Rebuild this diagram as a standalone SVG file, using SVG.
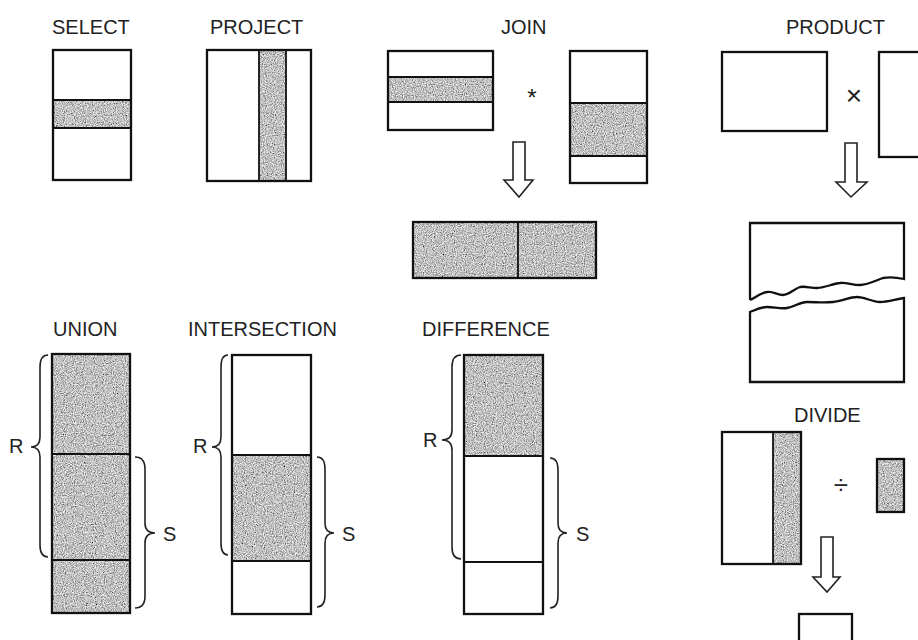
<svg xmlns="http://www.w3.org/2000/svg" width="918" height="640" viewBox="0 0 918 640">
<style>
text{font-family:"Liberation Sans",Arial,sans-serif;font-size:20px;fill:#222}
.op{font-size:28px}
.box{fill:none;stroke:#111;stroke-width:2.3}
.div{fill:none;stroke:#111;stroke-width:1.8}
.sh{fill:#999;filter:url(#grain)}
.brace{fill:none;stroke:#222;stroke-width:1.6}
.arr{fill:#fff;stroke:#222;stroke-width:1.6;stroke-linejoin:miter}
</style>
<defs>
<filter id="grain" x="0" y="0" width="100%" height="100%">
<feTurbulence type="fractalNoise" baseFrequency="0.9" numOctaves="2" seed="3" result="n"/>
<feColorMatrix in="n" type="matrix" values="1.4 0 0 0 -0.17  1.4 0 0 0 -0.17  1.4 0 0 0 -0.17  0 0 0 0 1" result="g"/>
<feComposite in="g" in2="SourceAlpha" operator="in"/>
</filter>
</defs>
<rect width="918" height="640" fill="#fff"/>

<g id="select">
<text x="52" y="34">SELECT</text>
<rect class="sh" x="53" y="100" width="78" height="28"/>
<line class="div" x1="53" y1="100" x2="131" y2="100"/>
<line class="div" x1="53" y1="128" x2="131" y2="128"/>
<rect class="box" x="53" y="50" width="78" height="130"/>
</g>

<g id="project">
<text x="210" y="34">PROJECT</text>
<rect class="sh" x="259" y="50" width="27" height="131"/>
<line class="div" x1="259" y1="50" x2="259" y2="181"/>
<line class="div" x1="286" y1="50" x2="286" y2="181"/>
<rect class="box" x="207" y="50" width="104" height="131"/>
</g>

<g id="join">
<text x="501" y="34">JOIN</text>
<rect class="sh" x="388" y="77" width="105" height="25"/>
<line class="div" x1="388" y1="77" x2="493" y2="77"/>
<line class="div" x1="388" y1="102" x2="493" y2="102"/>
<rect class="box" x="388" y="51" width="105" height="79"/>
<text class="op" x="532" y="106" text-anchor="middle" style="font-size:24px">*</text>
<rect class="sh" x="570" y="103" width="77" height="53"/>
<line class="div" x1="570" y1="103" x2="647" y2="103"/>
<line class="div" x1="570" y1="156" x2="647" y2="156"/>
<rect class="box" x="570" y="51" width="77" height="132"/>
</g>

<g id="join-result">
<rect class="sh" x="413" y="222" width="183" height="56"/>
<line class="div" x1="518" y1="222" x2="518" y2="278"/>
<rect class="box" x="413" y="222" width="183" height="56"/>
</g>

<g id="product">
<text x="786" y="34">PRODUCT</text>
<rect class="box" x="722" y="52" width="105" height="79"/>
<text class="op" x="854" y="105" text-anchor="middle">×</text>
<rect class="box" x="879" y="52" width="60" height="105"/>
</g>

<g id="product-result">
<path class="box" stroke-linejoin="miter" d="M750,300 L750,223 L904,223 L904,279 C895,277 888,277 883,278 C875,281 867,285 860,285 C852,285 846,282 840,283 C832,284 824,288 817,288 C810,288 806,286 800,287 C794,289 789,295 783,295 C777,295 773,291 767,292 C760,293 755,298 750,300"/>
<path class="box" stroke-linejoin="miter" d="M750,312 C755,310 761,307 767,307 C774,307 780,309 787,308 C794,307 800,302 807,302 C816,302 824,303 833,302 C842,301 850,297 857,297 C865,297 872,302 880,302 C888,302 896,299 904,298 L904,382 L750,382 Z"/>
</g>

<g id="union">
<text x="53" y="336">UNION</text>
<rect class="sh" x="52" y="354" width="78" height="259"/>
<line class="div" x1="52" y1="454" x2="130" y2="454"/>
<line class="div" x1="52" y1="560" x2="130" y2="560"/>
<rect class="box" x="52" y="354" width="78" height="259"/>
<path class="brace" d="M48,355 Q40,355 40,367 L40,437 Q40,447 31,447 Q40,447 40,457 L40,545 Q40,557 48,557"/>
<text x="9" y="453">R</text>
<path class="brace" d="M135,457 Q145,457 145,469 L145,523 Q145,533 155,533 Q145,533 145,543 L145,596 Q145,608 135,608"/>
<text x="163" y="541">S</text>
</g>

<g id="intersection">
<text x="188" y="336">INTERSECTION</text>
<rect class="sh" x="232" y="455" width="79" height="106"/>
<line class="div" x1="232" y1="455" x2="311" y2="455"/>
<line class="div" x1="232" y1="561" x2="311" y2="561"/>
<rect class="box" x="232" y="355" width="79" height="259"/>
<path class="brace" d="M228,355 Q221,355 221,367 L221,437 Q221,447 212,447 Q221,447 221,457 L221,543 Q221,555 228,555"/>
<text x="193" y="453">R</text>
<path class="brace" d="M317,457 Q325,457 325,469 L325,523 Q325,533 334,533 Q325,533 325,543 L325,595 Q325,607 317,607"/>
<text x="342" y="541">S</text>
</g>

<g id="difference">
<text x="422" y="336">DIFFERENCE</text>
<rect class="sh" x="464" y="355" width="79" height="101"/>
<line class="div" x1="464" y1="456" x2="543" y2="456"/>
<line class="div" x1="464" y1="562" x2="543" y2="562"/>
<rect class="box" x="464" y="355" width="79" height="259"/>
<path class="brace" d="M461,355 Q452,355 452,367 L452,430 Q452,440 442,440 Q452,440 452,450 L452,547 Q452,559 461,559"/>
<text x="423" y="447">R</text>
<path class="brace" d="M550,458 Q558,458 558,470 L558,523 Q558,533 567,533 Q558,533 558,543 L558,596 Q558,608 550,608"/>
<text x="576" y="541">S</text>
</g>

<g id="divide">
<text x="794" y="422">DIVIDE</text>
<rect class="sh" x="773" y="432" width="28" height="132"/>
<line class="div" x1="773" y1="432" x2="773" y2="564"/>
<rect class="box" x="722" y="432" width="79" height="132"/>
<text class="op" x="841" y="494" text-anchor="middle" style="font-size:26px">÷</text>
<rect class="sh" x="877" y="459" width="27" height="53"/>
<rect class="box" x="877" y="459" width="27" height="53"/>
</g>

<g id="divide-result">
<rect class="box" x="799" y="614" width="53" height="50"/>
</g>

<g id="connectors">
<path class="arr" d="M513,142 L525,142 L525,180 L533,180 L519,197 L504,180 L513,180 Z"/>
<path class="arr" d="M845,143 L857,143 L857,182 L867,182 L851,197 L836,182 L845,182 Z"/>
<path class="arr" d="M821,537 L833,537 L833,577 L840,577 L827,592 L813,577 L821,577 Z"/>
</g>
</svg>
